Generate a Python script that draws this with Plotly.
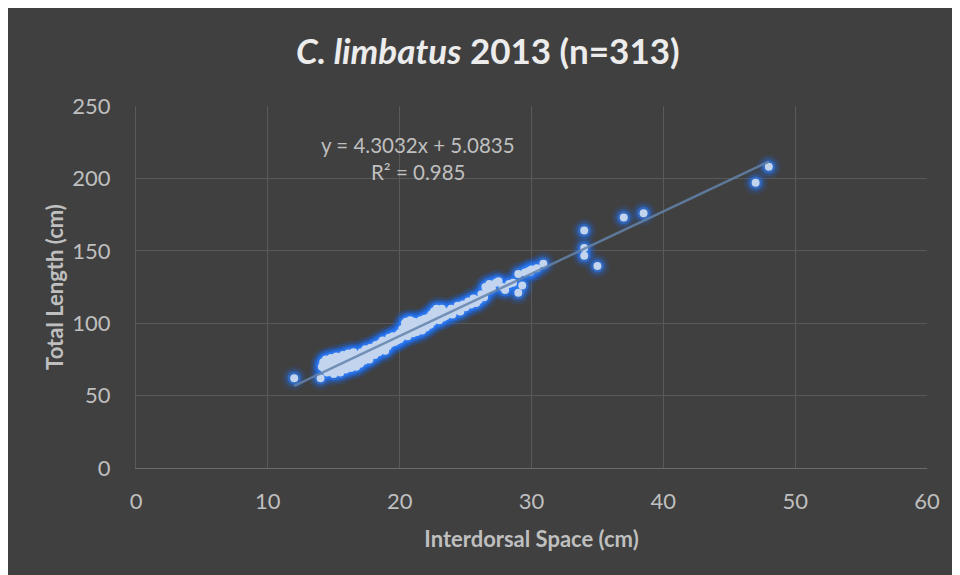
import plotly.graph_objects as go

# Interdorsal space (cm) and total length (cm)
interdorsal = [
    12.0, 14.0,
    14.1, 14.2, 14.3, 14.4, 14.5, 14.5, 14.6, 14.7, 14.8, 14.9,
    15.0, 15.0, 15.1, 15.2, 15.3, 15.4, 15.5, 15.5, 15.6, 15.7, 15.8, 15.9,
    16.0, 16.0, 16.1, 16.2, 16.3, 16.4, 16.5, 16.5, 16.6, 16.7, 16.8, 16.9,
    17.0, 17.0, 17.1, 17.2, 17.3, 17.4, 17.5, 17.6, 17.7, 17.8, 17.9,
    18.0, 18.1, 18.2, 18.3, 18.4, 18.5, 18.6, 18.7, 18.8, 18.9,
    19.0, 19.1, 19.2, 19.3, 19.4, 19.5, 19.6, 19.7, 19.8, 19.9,
    20.0, 20.0, 20.1, 20.2, 20.3, 20.4, 20.5, 20.5, 20.6, 20.7, 20.8, 20.9,
    21.0, 21.0, 21.1, 21.2, 21.3, 21.4, 21.5, 21.6, 21.7, 21.8, 21.9,
    22.0, 22.1, 22.2, 22.3, 22.4, 22.5, 22.6, 22.7, 22.8, 22.9,
    23.0, 23.1, 23.2, 23.3, 23.4, 23.5, 23.7, 23.9,
    24.0, 24.2, 24.4, 24.6, 24.8, 25.0, 25.2, 25.4, 25.6, 25.8,
    26.0, 26.2, 26.4, 26.5, 26.6, 26.8, 27.0, 27.3, 27.5, 27.8,
    28.0, 28.3, 28.6, 29.0, 29.0, 29.3, 29.5, 29.8, 29.9, 30.0, 30.4, 30.9,
    34.0, 34.0, 34.0, 35.0, 37.0, 38.5, 47.0, 48.0,
]
total_length = [
    62, 62,
    70, 73, 68, 75, 66, 71, 74, 69, 76, 72,
    65, 70, 74, 77, 68, 72, 66, 75, 70, 78, 73, 68,
    71, 76, 79, 74, 69, 77, 72, 80, 75, 70, 78, 74,
    76, 72, 80, 78, 74, 82, 77, 80, 75, 83, 79,
    81, 78, 85, 82, 80, 86, 83, 88, 84, 81,
    87, 84, 90, 86, 89, 91, 87, 90, 88, 92,
    89, 93, 90, 96, 92, 100, 94, 101, 91, 97, 102, 95,
    93, 99, 101, 96, 94, 100, 97, 102, 95, 99, 103,
    97, 101, 104, 99, 106, 101, 108, 103, 110, 105,
    102, 107, 110, 104, 108, 105, 107, 110,
    106, 109, 112, 108, 113, 111, 115, 113, 117, 114,
    116, 120, 118, 125, 122, 127, 124, 128, 129, 125,
    123, 127, 128, 121, 134, 126, 135, 136, 135.6, 137, 138, 141,
    164, 152, 146.5, 139.5, 173, 176, 197, 208,
]

# Linear trend reported on the chart
slope = 4.3032
intercept = 5.0835
trend_x = [min(interdorsal), max(interdorsal)]
trend_y = [slope * v + intercept for v in trend_x]

x_ticks = [0, 10, 20, 30, 40, 50, 60]
y_ticks = [0, 50, 100, 150, 200, 250]

FONT = "Lato, 'Open Sans', sans-serif"
TXT = "#bfbfbf"
GRID = "#595959"
BG = "#404040"

fig = go.Figure()
# glow layers (soft halo)
for size, color in [(24, "rgba(30,100,220,0.14)"),
                    (18, "rgba(35,110,235,0.28)"),
                    (13, "rgba(45,125,250,0.5)")]:
    fig.add_trace(go.Scatter(x=interdorsal, y=total_length, mode="markers",
                             marker=dict(size=size, color=color, line=dict(width=0)),
                             hoverinfo="skip", showlegend=False))
# core markers
fig.add_trace(go.Scatter(x=interdorsal, y=total_length, mode="markers",
                         marker=dict(size=8, color="#c3d5ee", line=dict(width=0)),
                         showlegend=False))
# trend line
fig.add_trace(go.Scatter(x=trend_x, y=trend_y, mode="lines",
                         line=dict(color="rgba(100,130,170,0.85)", width=2.5),
                         hoverinfo="skip", showlegend=False))

fig.update_layout(
    width=952, height=567,
    margin=dict(l=128, r=33, t=98, b=107),
    paper_bgcolor=BG,
    plot_bgcolor=BG,
    title=dict(text="<b><i>C. limbatus</i> 2013 (n=313)</b>",
               x=0.504, xanchor="center", y=0.922, yanchor="middle",
               font=dict(family=FONT, size=35, color="#ececec")),
    font=dict(family=FONT, color=TXT),
    annotations=[
        dict(text="y = 4.3032x + 5.0835", x=21.4, y=223, xref="x", yref="y",
             showarrow=False, font=dict(family=FONT, size=20.5, color=TXT)),
        dict(text="R² = 0.985", x=21.4, y=204.5, xref="x", yref="y",
             showarrow=False, font=dict(family=FONT, size=20.5, color=TXT)),
    ],
)
fig.update_xaxes(range=[0, 60], tickvals=x_ticks, ticktext=[str(v) for v in x_ticks],
                 showgrid=True, gridcolor=GRID, gridwidth=1, zeroline=False,
                 showline=True, linecolor="#6a6a6a", linewidth=1,
                 ticks="", ticklabelstandoff=14,
                 tickfont=dict(family=FONT, size=22, color=TXT),
                 title=dict(text="<b>Interdorsal Space (cm)</b>", standoff=18,
                            font=dict(family=FONT, size=22, color=TXT)))
fig.update_yaxes(range=[0, 250], tickvals=y_ticks, ticktext=[str(v) for v in y_ticks],
                 showgrid=True, gridcolor=GRID, gridwidth=1, zeroline=False,
                 showline=True, linecolor=GRID, linewidth=1,
                 ticks="", ticklabelstandoff=20,
                 tickfont=dict(family=FONT, size=22, color=TXT),
                 title=dict(text="<b>Total Length (cm)</b>", standoff=2,
                            font=dict(family=FONT, size=22, color=TXT)))

fig.write_html("out.html")
